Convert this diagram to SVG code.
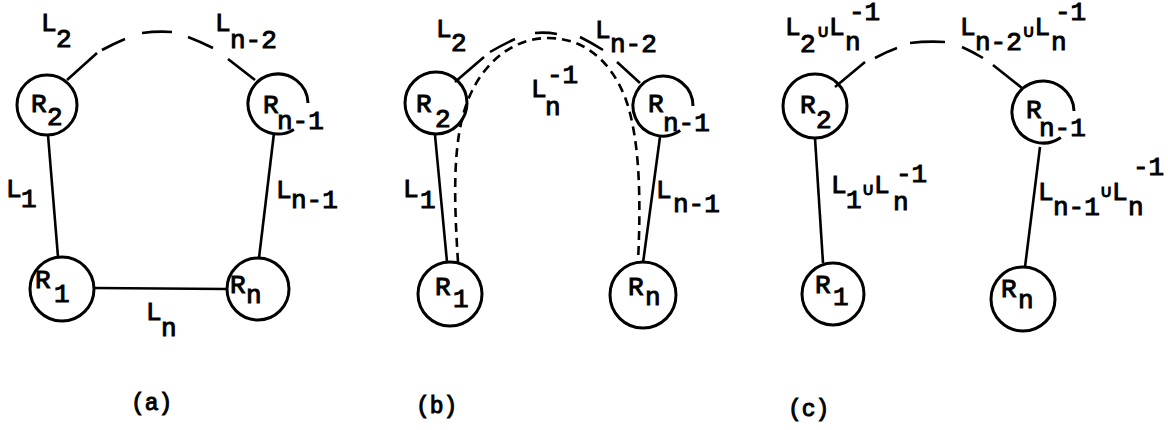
<svg xmlns="http://www.w3.org/2000/svg" width="1168" height="430" viewBox="0 0 1168 430">
<style>
.c{fill:none;stroke:#000;stroke-width:3}
.e{fill:none;stroke:#000;stroke-width:2.6;stroke-linecap:butt}
.d{fill:none;stroke:#000;stroke-width:2.6;stroke-dasharray:9 6}
text{font-family:"Liberation Mono","DejaVu Sans Mono",monospace;font-size:26px;fill:#000;stroke:#000;stroke-width:1}
.u{font-family:"DejaVu Sans","Liberation Sans",sans-serif;font-size:17px;stroke-width:1.1}
.p{font-size:23px}
</style>
<rect width="1168" height="430" fill="#fff"/>

<!-- Panel (a) -->
<g id="a-R2"><circle class="c" cx="47" cy="105" r="30"/><text x="31" y="112">R</text><text x="47" y="125">2</text></g>
<g id="a-Rn1"><path class="c" d="M293.9,129.4 A30,30 0 1 1 308,103"/><text x="263" y="113">R</text><text x="277" y="129">n-1</text></g>
<g id="a-R1"><circle class="c" cx="62" cy="289" r="32"/><text x="35" y="288">R</text><text x="54" y="302">1</text></g>
<g id="a-Rn"><circle class="c" cx="258" cy="289" r="31"/><text x="230" y="293">R</text><text x="246" y="303">n</text></g>
<g id="a-connectors">
<line class="e" x1="48" y1="135" x2="58" y2="257"/>
<line class="e" x1="274" y1="133" x2="259" y2="258"/>
<line class="e" x1="94" y1="288" x2="227" y2="289"/>
<path class="e" d="M67,80 L97,53"/>
<path class="e" d="M102,50 Q113,44 125,39"/>
<path class="e" d="M142,33 Q157,31 172,32"/>
<path class="e" d="M188,37 Q201,42 213,48"/>
<path class="e" d="M228,59 L255,80"/>
</g>
<g id="a-labels">
<text x="41" y="31">L</text><text x="56" y="47">2</text>
<text x="215" y="31">L</text><text x="230" y="48">n-2</text>
<text x="6" y="197">L</text><text x="21" y="207">1</text>
<text x="276" y="198">L</text><text x="291" y="208">n-1</text>
<text x="146" y="320">L</text><text x="161" y="336">n</text>
<text class="p" x="131" y="410">(a)</text>
</g>

<!-- Panel (b) -->
<g id="b-R2"><circle class="c" cx="436" cy="103" r="31"/><text x="416" y="112">R</text><text x="435" y="127">2</text></g>
<g id="b-Rn1"><path class="c" d="M680.2,130.6 A30,30 0 1 1 693,106"/><text x="648" y="112">R</text><text x="663" y="131">n-1</text></g>
<g id="b-R1"><circle class="c" cx="450" cy="294" r="32"/><text x="435" y="295">R</text><text x="453" y="307">1</text></g>
<g id="b-Rn"><circle class="c" cx="643" cy="295" r="33"/><text x="628" y="295">R</text><text x="645" y="305">n</text></g>
<g id="b-connectors">
<line class="e" x1="435" y1="135" x2="447" y2="262"/>
<line class="e" x1="660" y1="137" x2="643" y2="263"/>
<path class="e" d="M455,82 L484,57"/>
<path class="e" d="M490,52 Q502,45 515,39"/>
<path class="e" d="M535,33 Q546,32 557,34"/>
<path class="e" d="M580,37 Q592,43 603,50"/>
<path class="e" d="M617,62 L640,83"/>
<path class="d" d="M458,262 C454,200 452,140 468,100 C484,60 515,38 548,38 C585,38 612,62 626,100 C640,140 641,200 638,262"/>
</g>
<g id="b-labels">
<text x="436" y="37">L</text><text x="451" y="51">2</text>
<text x="595" y="38">L</text><text x="610" y="52">n-2</text>
<text x="531" y="97">L</text><text x="545" y="115">n</text><text x="547" y="83">-1</text>
<text x="403" y="197">L</text><text x="420" y="208">1</text>
<text x="656" y="198">L</text><text x="673" y="212">n-1</text>
<text class="p" x="416" y="413">(b)</text>
</g>

<!-- Panel (c) -->
<g id="c-R2"><circle class="c" cx="815" cy="106" r="32"/><text x="800" y="113">R</text><text x="816" y="128">2</text></g>
<g id="c-Rn1"><path class="c" d="M1060.8,137.4 A31,31 0 1 1 1074,111"/><text x="1026" y="118">R</text><text x="1039" y="136">n-1</text></g>
<g id="c-R1"><circle class="c" cx="833" cy="294" r="31"/><text x="815" y="293">R</text><text x="833" y="305">1</text></g>
<g id="c-Rn"><circle class="c" cx="1023" cy="299" r="32"/><text x="1001" y="297">R</text><text x="1018" y="308">n</text></g>
<g id="c-connectors">
<line class="e" x1="815" y1="138" x2="823" y2="263"/>
<line class="e" x1="1040" y1="147" x2="1025" y2="267"/>
<path class="e" d="M835,87 L865,62"/>
<path class="e" d="M875,58 Q886,52 897,48"/>
<path class="e" d="M910,43 Q927,41 945,42"/>
<path class="e" d="M962,47 Q973,52 983,58"/>
<path class="e" d="M993,65 L1022,88"/>
</g>
<g id="c-labels">
<text x="785" y="35">L</text><text x="800" y="52">2</text><text class="u" x="817" y="37">∪</text><text x="829" y="35">L</text><text x="845" y="50">n</text><text x="849" y="20">-1</text>
<text x="960" y="35">L</text><text x="975" y="50">n-2</text><text class="u" x="1022.5" y="37">∪</text><text x="1034.5" y="35">L</text><text x="1051" y="50">n</text><text x="1055" y="20">-1</text>
<text x="831" y="193">L</text><text x="846" y="208">1</text><text class="u" x="862" y="195">∪</text><text x="874" y="193">L</text><text x="893" y="210">n</text><text x="896" y="182">-1</text>
<text x="1038" y="200">L</text><text x="1053" y="215">n-1</text><text class="u" x="1100" y="197">∪</text><text x="1112" y="200">L</text><text x="1128" y="215">n</text><text x="1133" y="175">-1</text>
<text class="p" x="788" y="416">(c)</text>
</g>
</svg>
